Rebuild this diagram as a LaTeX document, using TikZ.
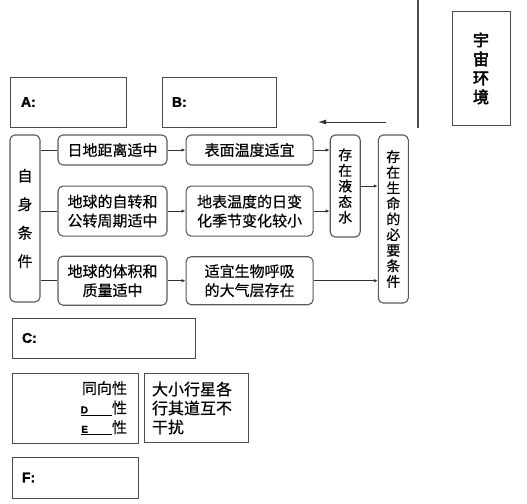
\documentclass[tikz,border=0pt]{standalone}
\usepackage{fontspec}
\setmainfont{Liberation Sans}
\newfontfamily\cjk[FakeBold=0.4]{Noto Sans CJK SC}
\newfontfamily\cjkbf[FakeBold=3]{Noto Sans CJK SC}
\newfontfamily\heavyfont[FakeBold=1.5]{Liberation Sans Bold}
\usetikzlibrary{arrows.meta, positioning}

\begin{document}
\begin{tikzpicture}[
    x=1pt, y=-1pt,
    >={Latex[length=4pt,width=3.5pt]},
    font=\cjk\fontsize{15}{19}\selectfont,
    flowbox/.style={draw=black!65, line width=1.1pt, rounded corners=5pt, align=center, inner sep=0pt},
    leftbox/.style={flowbox, minimum width=109pt},
    midbox/.style={flowbox, minimum width=127pt},
    colbox/.style={flowbox, minimum width=30pt, font=\cjk\fontsize{14}{15.6}\selectfont},
    blankbox/.style={draw=black!70, line width=1pt, inner ysep=0pt},
    labelbox/.style={blankbox, align=left, inner xsep=10pt, font=\heavyfont\fontsize{14}{14}\selectfont},
    flowline/.style={draw=black!80, line width=0.8pt}
  ]
  \useasboundingbox (0,0) rectangle (527,503);

  % top part
  \coordinate (divtop) at (418,0);
  \coordinate (divbot) at (418,128);
  \draw[draw=black!70, line width=1.2pt] (divtop) -- (divbot);

  \node (cosmos) [blankbox, minimum width=58pt, minimum height=113pt, align=center,
    font=\cjkbf\fontsize{16}{19}\selectfont] at (481,68.5) {宇\\宙\\环\\境};

  \node (boxA) [labelbox, minimum width=116pt, minimum height=50pt, text width=94pt, inner xsep=11pt] at (68,102) {A:};
  \node (boxB) [labelbox, minimum width=114pt, minimum height=50pt, text width=94pt] at (219,102) {B:};

  \coordinate (arrstart) at (386,122);
  \coordinate (arrend) at (318,122);
  \draw[flowline, line width=1pt, -{Latex[length=8pt,width=5pt]}] (arrstart) -- (arrend);

  % conditions
  \node (selfcond) [colbox, minimum height=167pt, font=\cjk\fontsize{15}{28.5}\selectfont] at (25,218.5) {自\\身\\条\\件};

  \node (dist) [leftbox, minimum height=30pt] at (112.5,150) {日地距离适中};
  \node (spin) [leftbox, minimum height=50pt, below=20pt of dist] {地球的自转和\\公转周期适中};
  \node (mass) [leftbox, minimum height=49pt, below=19pt of spin] {地球的体积和\\质量适中};

  \node (surftemp) [midbox, minimum height=30pt, right=18pt of dist] {表面温度适宜};
  \node (daytemp) [midbox, minimum height=50pt, right=18pt of spin] {地表温度的日变\\化季节变化较小};
  \node (atmos) [midbox, minimum height=48pt, right=18pt of mass] {适宜生物呼吸\\的大气层存在};

  \node (water) [colbox, minimum height=102pt, right=16pt of surftemp.north east, anchor=north west] {存\\在\\液\\态\\水};
  \node (life) [colbox, minimum height=168pt, right=17pt of water.north east, anchor=north west] {存\\在\\生\\命\\的\\必\\要\\条\\件};

  \draw[flowline] (selfcond.east |- dist.west) -- (dist.west);
  \draw[flowline] (selfcond.east |- spin.west) -- (spin.west);
  \draw[flowline] (selfcond.east |- mass.west) -- (mass.west);
  \draw[flowline, ->] (dist) -- (surftemp);
  \draw[flowline, ->] (spin) -- (daytemp);
  \draw[flowline, ->] (mass) -- (atmos);
  \draw[flowline, ->] (surftemp.east) -- (surftemp.east -| water.west);
  \draw[flowline, ->] (daytemp.east) -- (daytemp.east -| water.west);
  \draw[flowline, ->] (water.east) -- (water.east -| life.west);
  \draw[flowline, ->] (atmos.east) -- (atmos.east -| life.west);

  % bottom part
  \node (boxC) [labelbox, minimum width=183pt, minimum height=40pt, text width=163pt] at (103.5,338) {\raisebox{-7pt}{C:}};

  \node (boxDE) [blankbox, minimum width=126pt, minimum height=70pt, text width=104pt, inner xsep=11pt,
    align=right, font=\cjk\fontsize{15}{19.5}\selectfont] at (75,408)
    {同向性\\\underline{{\heavyfont\fontsize{10}{10}\selectfont D}\hspace{24pt}}性\\\underline{{\heavyfont\fontsize{10}{10}\selectfont E}\hspace{24pt}}性};
  \node (planets) [blankbox, minimum width=104pt, minimum height=69pt, text width=88pt, inner xsep=8pt,
    align=left, font=\cjk\fontsize{16}{19}\selectfont, right=5pt of boxDE] {大小行星各\\行其道互不\\干扰};

  \node (boxF) [labelbox, minimum width=126pt, minimum height=41pt, text width=106pt] at (75,477.5) {\raisebox{-7pt}{F:}};
\end{tikzpicture}
\end{document}
